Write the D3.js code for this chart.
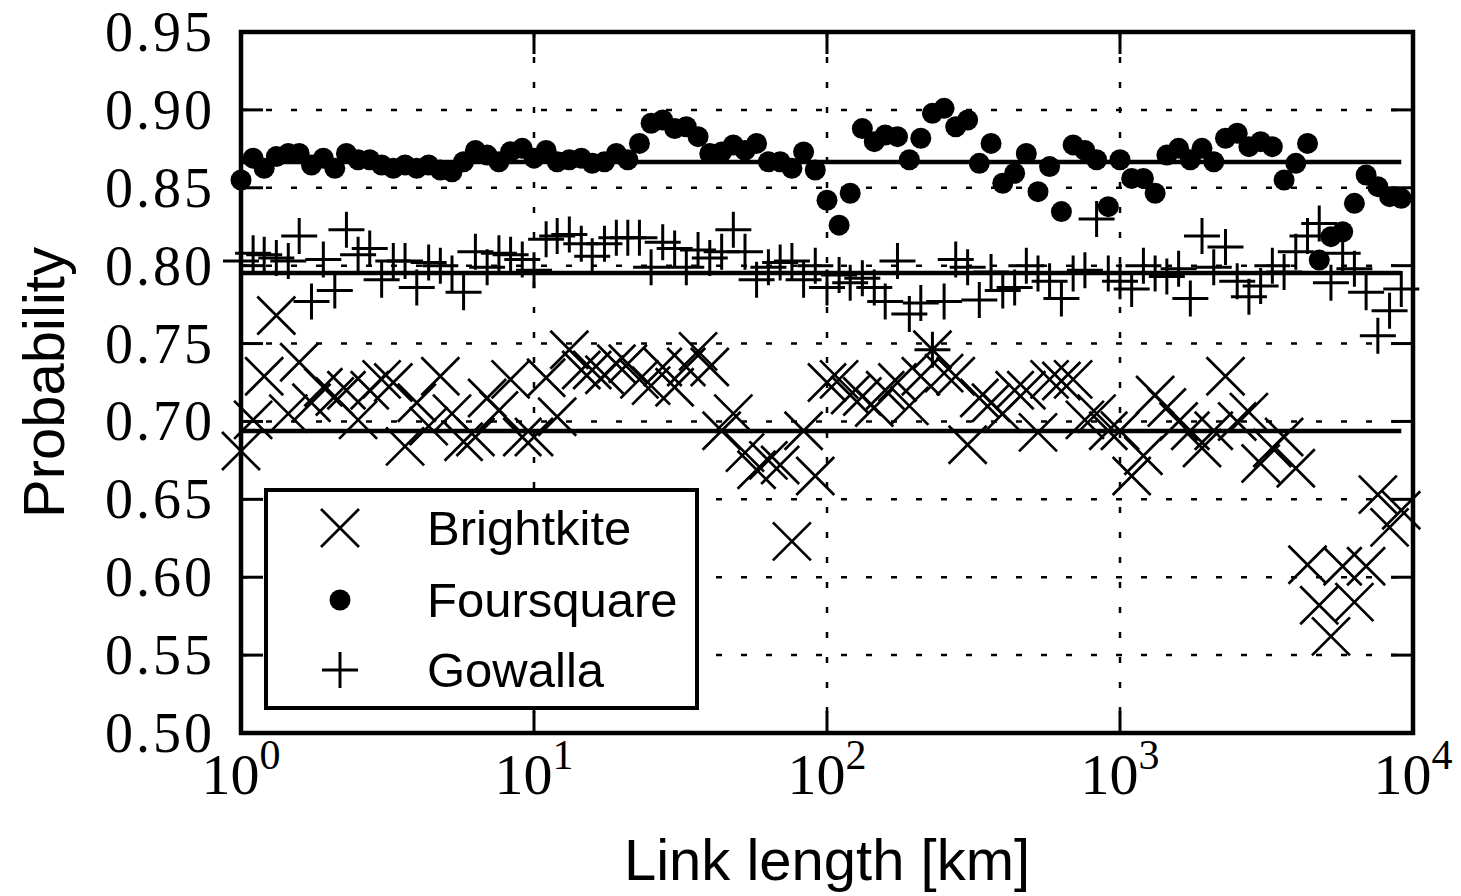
<!DOCTYPE html>
<html>
<head>
<meta charset="utf-8">
<script src="https://cdn.jsdelivr.net/npm/d3@7"></script>
<style>
  html, body { margin: 0; padding: 0; background: #fff; }
  svg { display: block; }
</style>
</head>
<body>
<div id="chart"></div>
<script>
// ---- data ----
const linkLength = [
  1.00,1.10,1.20,1.32,1.45,1.58,1.74,1.91,2.09,2.29,2.51,2.75,3.02,3.31,3.63,3.98,4.37,4.79,5.25,5.75,6.31,6.92,7.59,8.32,9.12,
  10.0,11.0,12.0,13.2,14.5,15.8,17.4,19.1,20.9,22.9,25.1,27.5,30.2,33.1,36.3,39.8,43.7,47.9,52.5,57.5,63.1,69.2,75.9,83.2,91.2,
  100,110,120,132,145,158,174,191,209,229,251,275,302,331,363,398,437,479,525,575,631,692,759,832,912,
  1000,1096,1202,1318,1445,1585,1738,1905,2089,2291,2512,2754,3020,3311,3631,3981,4365,4786,5248,5754,6310,6918,7586,8318,9120
];
const foursquare = [
  0.855,0.869,0.8625,0.870,0.872,0.872,0.8646,0.869,0.8625,0.872,0.868,0.868,0.8646,0.8625,0.8646,0.8625,0.8646,0.8614,0.8603,0.8667,0.874,0.871,0.8667,0.8732,0.8753,
  0.869,0.874,0.8667,0.868,0.869,0.8657,0.8667,0.872,0.868,0.8785,0.8914,0.8935,0.888,0.8892,0.8828,0.872,0.873,0.8775,0.874,0.8785,0.8667,0.8667,0.8625,0.873,0.8614,
  0.842,0.826,0.8465,0.888,0.8796,0.8839,0.8828,0.868,0.8818,0.8978,0.901,0.8892,0.8935,0.8657,0.8785,0.8529,0.8593,0.872,0.8475,0.8636,0.8347,0.8775,0.874,0.868,0.8379,
  0.868,0.856,0.856,0.8465,0.871,0.8753,0.868,0.8753,0.8667,0.8818,0.885,0.8764,0.8796,0.8764,0.855,0.8657,0.8785,0.8036,0.8186,0.8218,0.840,0.8582,0.8507,0.8443,0.8432
];
const gowalla = [
  0.803,0.808,0.807,0.805,0.803,0.819,0.777,0.804,0.784,0.823,0.807,0.811,0.791,0.803,0.803,0.786,0.802,0.800,0.795,0.783,0.809,0.799,0.808,0.807,0.804,
  0.797,0.817,0.819,0.820,0.814,0.806,0.814,0.818,0.818,0.818,0.799,0.815,0.811,0.799,0.810,0.805,0.809,0.823,0.809,0.791,0.799,0.802,0.803,0.791,0.800,
  0.786,0.794,0.789,0.792,0.786,0.777,0.803,0.769,0.776,0.746,0.777,0.804,0.799,0.778,0.796,0.784,0.786,0.800,0.795,0.790,0.779,0.795,0.797,0.830,0.795,
  0.790,0.785,0.800,0.795,0.793,0.798,0.779,0.819,0.799,0.812,0.790,0.780,0.787,0.800,0.796,0.809,0.819,0.827,0.789,0.808,0.798,0.783,0.755,0.771,0.785
];
const brightkite = [
  0.681,0.701,0.729,0.768,0.705,0.738,0.712,0.722,0.716,0.720,0.701,0.720,0.727,0.725,0.684,0.712,0.697,0.729,0.705,0.687,0.690,0.715,0.707,0.727,0.690,
  0.690,0.728,0.703,0.746,0.733,0.733,0.730,0.737,0.737,0.727,0.723,0.735,0.722,0.735,0.745,0.735,0.694,0.705,0.680,0.669,0.675,0.672,0.623,0.694,0.665,
  0.725,0.727,0.717,0.716,0.709,0.720,0.725,0.710,0.729,0.746,0.731,0.729,0.685,0.715,0.712,0.705,0.720,0.720,0.693,0.727,0.726,0.727,0.701,0.705,0.694,
  0.694,0.665,0.678,0.717,0.709,0.700,0.694,0.683,0.694,0.729,0.700,0.706,0.673,0.683,0.690,0.670,0.608,0.582,0.562,0.607,0.584,0.607,0.653,0.632,0.643
];
const seriesNames = ["Brightkite", "Foursquare", "Gowalla"];
const meanValues = [0.6939, 0.8666, 0.7953];
const yTicks = [0.50,0.55,0.60,0.65,0.70,0.75,0.80,0.85,0.90,0.95];
const xTicks = [1,10,100,1000,10000];
const xTickExponents = ["0","1","2","3","4"];
const xTitle = "Link length [km]";
const yTitle = "Probability";

// ---- layout ----
const W = 1461, H = 896;
const L = 241, R = 1413, T = 32, B = 733;
const svg = d3.select("#chart").append("svg").attr("width", W).attr("height", H);

const x = d3.scaleLog().domain([1, 10000]).range([L, R]);
const y = d3.scaleLinear().domain([0.5, 0.95]).range([B, T]);

const serif = "'Liberation Serif', 'Times New Roman', serif";
const sans = "'Liberation Sans', Arial, Helvetica, sans-serif";

// grid
const grid = svg.append("g");
grid.selectAll("line.h").data(yTicks.slice(1, -1)).join("line")
  .attr("x1", L).attr("x2", R).attr("y1", d => y(d)).attr("y2", d => y(d))
  .attr("stroke", "#000").attr("stroke-width", 2.5).attr("stroke-dasharray", "6,19");
grid.selectAll("line.v").data(xTicks.slice(1, -1)).join("line")
  .attr("y1", T).attr("y2", B).attr("x1", d => x(d)).attr("x2", d => x(d))
  .attr("stroke", "#000").attr("stroke-width", 2.5).attr("stroke-dasharray", "6,19");

// mean lines
const xmin = d3.min(linkLength), xmax = d3.max(linkLength);
svg.append("g").selectAll("line").data(meanValues).join("line")
  .attr("x1", x(xmin)).attr("x2", x(xmax))
  .attr("y1", d => y(d)).attr("y2", d => y(d))
  .attr("stroke", "#000").attr("stroke-width", 4.5);

// markers
const xr = 19, pr = 18;
const bk = svg.append("g").attr("stroke", "#000").attr("stroke-width", 2.7).attr("fill", "none");
brightkite.forEach((v, i) => {
  const cx = x(linkLength[i]), cy = y(v);
  bk.append("path").attr("d", `M${cx-xr},${cy-xr}L${cx+xr},${cy+xr}M${cx-xr},${cy+xr}L${cx+xr},${cy-xr}`);
});
svg.append("g").selectAll("circle").data(foursquare).join("circle")
  .attr("cx", (d, i) => x(linkLength[i])).attr("cy", d => y(d)).attr("r", 10.5).attr("fill", "#000");
const gw = svg.append("g").attr("stroke", "#000").attr("stroke-width", 3).attr("fill", "none");
gowalla.forEach((v, i) => {
  const cx = x(linkLength[i]), cy = y(v);
  gw.append("path").attr("d", `M${cx-pr},${cy}L${cx+pr},${cy}M${cx},${cy-pr}L${cx},${cy+pr}`);
});

// ticks (inward, all four sides)
const tk = svg.append("g").attr("stroke", "#000").attr("stroke-width", 3);
yTicks.forEach(t => {
  tk.append("line").attr("x1", L).attr("x2", L + 22).attr("y1", y(t)).attr("y2", y(t));
  tk.append("line").attr("x1", R).attr("x2", R - 22).attr("y1", y(t)).attr("y2", y(t));
});
xTicks.forEach(t => {
  tk.append("line").attr("y1", B).attr("y2", B - 22).attr("x1", x(t)).attr("x2", x(t));
  tk.append("line").attr("y1", T).attr("y2", T + 22).attr("x1", x(t)).attr("x2", x(t));
});

// frame
svg.append("rect").attr("x", L).attr("y", T).attr("width", R - L).attr("height", B - T)
  .attr("fill", "none").attr("stroke", "#000").attr("stroke-width", 4.5);

// tick labels
svg.append("g").selectAll("text").data(yTicks).join("text")
  .attr("x", L - 26).attr("y", d => y(d) + 19)
  .attr("text-anchor", "end").attr("font-family", serif).attr("font-size", 56)
  .attr("letter-spacing", 3)
  .text(d => d.toFixed(2));
const xl = svg.append("g");
xTicks.forEach((t, i) => {
  const tx = xl.append("text").attr("x", x(t)).attr("y", 794)
    .attr("text-anchor", "middle").attr("font-family", serif).attr("font-size", 58);
  tx.append("tspan").text("10");
  tx.append("tspan").attr("font-size", 42).attr("dy", -25).text(xTickExponents[i]);
});

// axis titles
svg.append("text").attr("x", (L + R) / 2).attr("y", 880).attr("text-anchor", "middle")
  .attr("font-family", sans).attr("font-size", 58).text(xTitle);
svg.append("text").attr("transform", `translate(64,${(T + B) / 2}) rotate(-90)`)
  .attr("text-anchor", "middle").attr("font-family", sans).attr("font-size", 58).text(yTitle);

// legend
const lg = svg.append("g");
lg.append("rect").attr("x", 266).attr("y", 490).attr("width", 431).attr("height", 218)
  .attr("fill", "#fff").attr("stroke", "#000").attr("stroke-width", 4);
const rowsY = [528, 600, 670];
const mx = 340;
lg.append("path").attr("d", `M${mx-xr},${rowsY[0]-xr}L${mx+xr},${rowsY[0]+xr}M${mx-xr},${rowsY[0]+xr}L${mx+xr},${rowsY[0]-xr}`)
  .attr("stroke", "#000").attr("stroke-width", 2.7);
lg.append("circle").attr("cx", mx).attr("cy", rowsY[1]).attr("r", 10.5).attr("fill", "#000");
lg.append("path").attr("d", `M${mx-pr},${rowsY[2]}L${mx+pr},${rowsY[2]}M${mx},${rowsY[2]-pr}L${mx},${rowsY[2]+pr}`)
  .attr("stroke", "#000").attr("stroke-width", 3);
lg.selectAll("text").data(seriesNames).join("text")
  .attr("x", 427).attr("y", (d, i) => rowsY[i] + 17)
  .attr("font-family", sans).attr("font-size", 49).text(d => d);
</script>
</body>
</html>
